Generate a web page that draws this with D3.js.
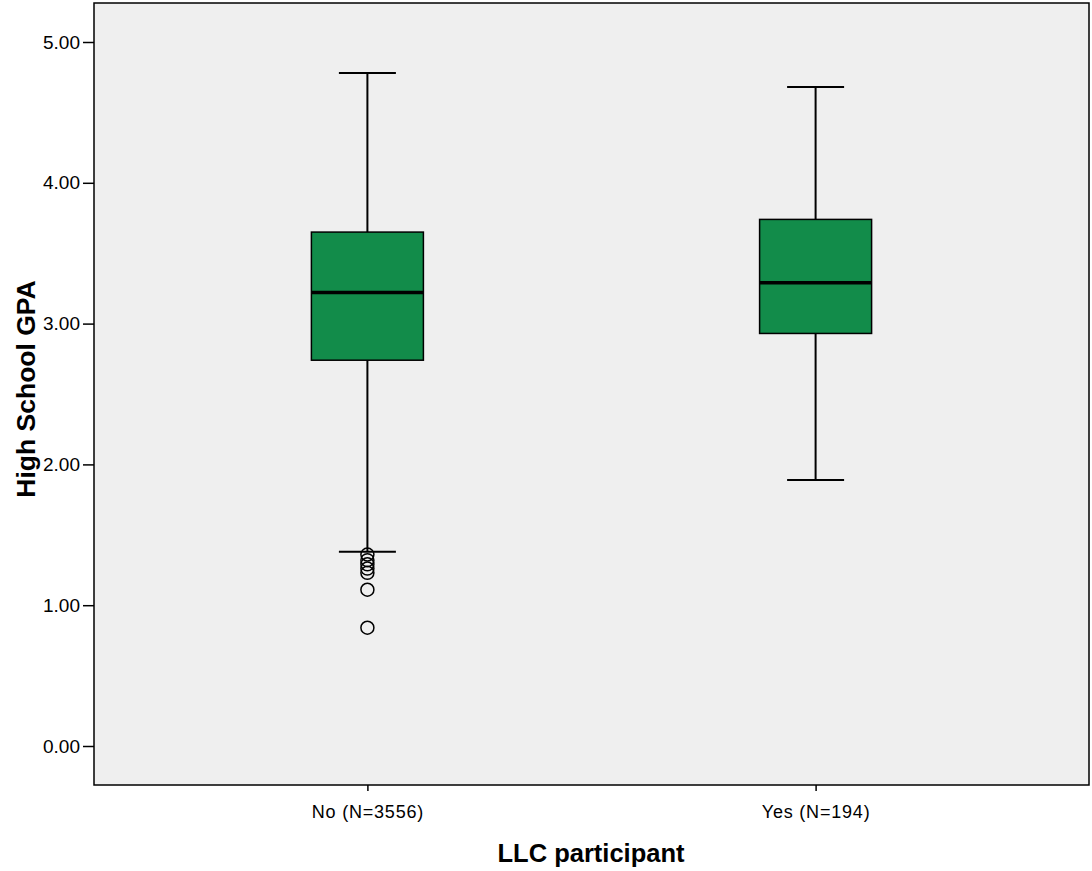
<!DOCTYPE html>
<html>
<head>
<meta charset="utf-8">
<script src="https://cdn.jsdelivr.net/npm/d3@7"></script>
<style>
  html, body { margin: 0; padding: 0; background: #ffffff; }
  svg { display: block; font-family: "Liberation Sans", Arial, sans-serif; }
</style>
</head>
<body>
<svg id="chart" width="1092" height="871"></svg>
<script>
// Boxplot summary per LLC group
const categories = ["No (N=3556)", "Yes (N=194)"];
const lowerWhisker = [1.38, 1.89];
const q1 = [2.74, 2.93];
const median = [3.22, 3.29];
const q3 = [3.65, 3.74];
const upperWhisker = [4.78, 4.68];
const outliers = [[1.36, 1.32, 1.29, 1.26, 1.23, 1.11, 0.84], []];
const yTicks = [0, 1, 2, 3, 4, 5];

const svg = d3.select("#chart");
const margin = { left: 94, top: 3, right: 1089, bottom: 785 };

const x = d3.scalePoint()
  .domain(categories)
  .range([margin.left, margin.right])
  .padding(0.61);

const y = d3.scaleLinear()
  .domain([0, 5])
  .range([746, 42]);

// Plot background
svg.append("rect")
  .attr("x", margin.left).attr("y", margin.top)
  .attr("width", margin.right - margin.left)
  .attr("height", margin.bottom - margin.top)
  .attr("fill", "#efefef")
  .attr("stroke", "#000").attr("stroke-width", 1.5);

// Y axis
const yAxis = svg.append("g")
  .attr("transform", `translate(${margin.left},0)`)
  .call(d3.axisLeft(y).tickValues(yTicks).tickFormat(d3.format(".2f")).tickSize(11).tickPadding(3));
yAxis.select(".domain").remove();
yAxis.selectAll(".tick line").attr("stroke", "#000").attr("stroke-width", 1.5);
yAxis.selectAll(".tick text").attr("fill", "#000")
  .attr("font-family", "'Liberation Sans', Arial, sans-serif").style("font-size", "19px");

// X axis
const xAxis = svg.append("g")
  .attr("transform", `translate(0,${margin.bottom})`)
  .call(d3.axisBottom(x).tickSize(6).tickPadding(14));
xAxis.select(".domain").remove();
xAxis.selectAll(".tick line").attr("stroke", "#000").attr("stroke-width", 1.5);
xAxis.selectAll(".tick text").attr("fill", "#000")
  .attr("font-family", "'Liberation Sans', Arial, sans-serif").style("font-size", "18px")
  .style("letter-spacing", "0.8px");

// Axis titles
svg.append("text")
  .attr("x", 591)
  .attr("y", 862)
  .attr("text-anchor", "middle")
  .attr("font-weight", "bold")
  .attr("font-size", 25.5)
  .attr("fill", "#000")
  .text("LLC participant");

svg.append("text")
  .attr("transform", "translate(35,389) rotate(-90)")
  .attr("text-anchor", "middle")
  .attr("font-weight", "bold")
  .attr("font-size", 26.5)
  .attr("fill", "#000")
  .text("High School GPA");

// Boxes
const boxW = 112, capW = 57;
const groups = svg.append("g").selectAll("g")
  .data(categories.map((c, i) => ({ c, i })))
  .join("g");

// Whisker stems
groups.append("line")
  .attr("x1", d => x(d.c)).attr("x2", d => x(d.c))
  .attr("y1", d => y(upperWhisker[d.i])).attr("y2", d => y(q3[d.i]))
  .attr("stroke", "#000").attr("stroke-width", 2);
groups.append("line")
  .attr("x1", d => x(d.c)).attr("x2", d => x(d.c))
  .attr("y1", d => y(q1[d.i])).attr("y2", d => y(lowerWhisker[d.i]))
  .attr("stroke", "#000").attr("stroke-width", 2);

// Whisker caps
groups.append("line")
  .attr("x1", d => x(d.c) - capW / 2).attr("x2", d => x(d.c) + capW / 2)
  .attr("y1", d => y(upperWhisker[d.i])).attr("y2", d => y(upperWhisker[d.i]))
  .attr("stroke", "#000").attr("stroke-width", 2);
groups.append("line")
  .attr("x1", d => x(d.c) - capW / 2).attr("x2", d => x(d.c) + capW / 2)
  .attr("y1", d => y(lowerWhisker[d.i])).attr("y2", d => y(lowerWhisker[d.i]))
  .attr("stroke", "#000").attr("stroke-width", 2);

// Interquartile box
groups.append("rect")
  .attr("x", d => x(d.c) - boxW / 2)
  .attr("y", d => y(q3[d.i]))
  .attr("width", boxW)
  .attr("height", d => y(q1[d.i]) - y(q3[d.i]))
  .attr("fill", "#128c4a")
  .attr("stroke", "#000").attr("stroke-width", 1.5);

// Median
groups.append("line")
  .attr("x1", d => x(d.c) - boxW / 2).attr("x2", d => x(d.c) + boxW / 2)
  .attr("y1", d => y(median[d.i])).attr("y2", d => y(median[d.i]))
  .attr("stroke", "#000").attr("stroke-width", 3.5);

// Outliers
groups.each(function (d) {
  d3.select(this).selectAll("circle")
    .data(outliers[d.i])
    .join("circle")
    .attr("cx", x(d.c))
    .attr("cy", v => y(v))
    .attr("r", 6.5)
    .attr("fill", "none")
    .attr("stroke", "#000")
    .attr("stroke-width", 1.5);
});
</script>
</body>
</html>
